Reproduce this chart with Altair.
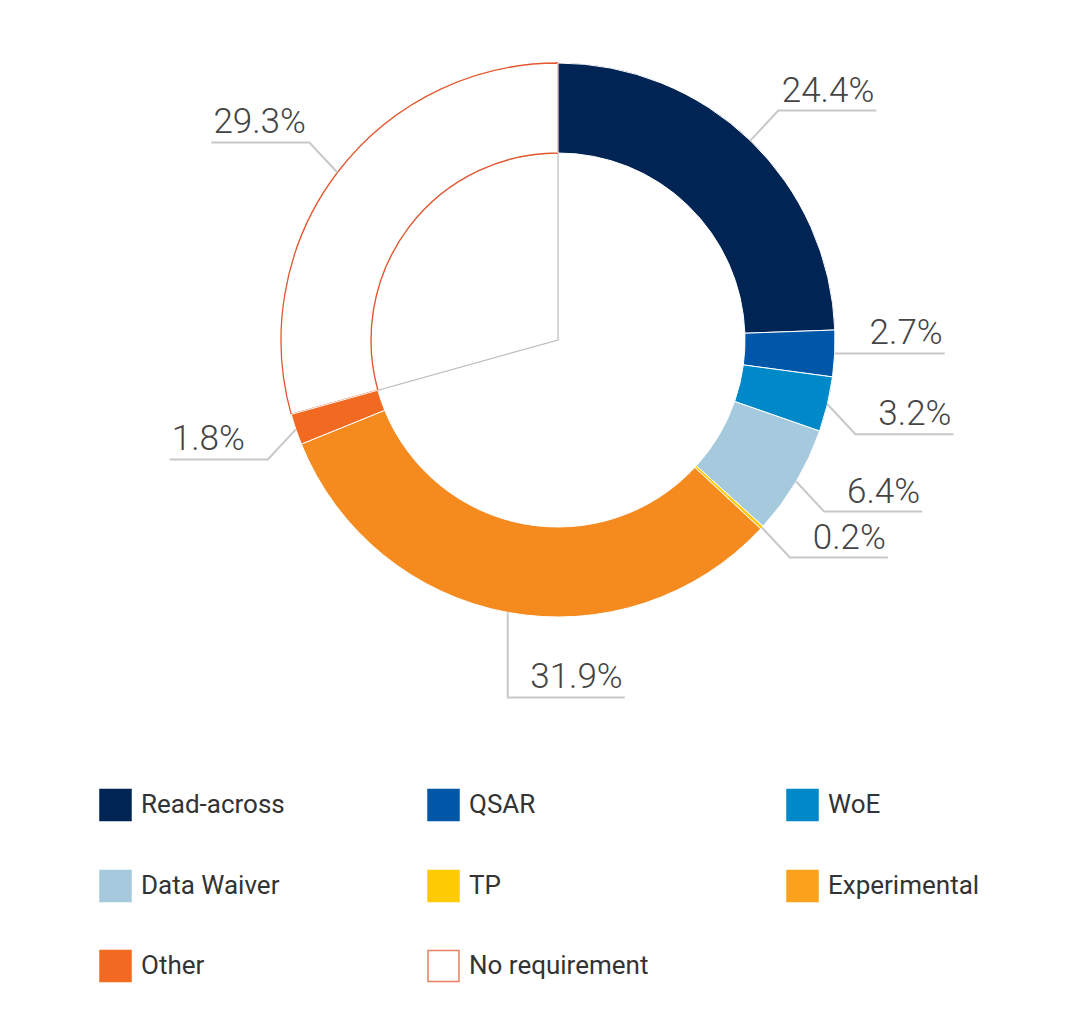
import math

import altair as alt
import pandas as pd

# Shares of each information source (percent), clockwise from 12 o'clock
categories = ["Read-across", "QSAR", "WoE", "Data Waiver", "TP",
              "Experimental", "Other", "No requirement"]
shares = [24.4, 2.7, 3.2, 6.4, 0.2, 31.9, 1.8, 29.3]
slice_colors = ["#002554", "#0057a8", "#0089c8", "#a5c9dd", "#ffcb05",
                "#f58a1f", "#f26a21", "#ffffff"]
legend_colors = ["#002554", "#0057a8", "#0089c8", "#a5c9dd", "#ffcb05",
                 "#faa21b", "#f26a21", "#ffffff"]

# Canvas and donut geometry (pixels)
W, H = 1070, 1036
CX, CY = 558, 340
R_OUT, R_IN = 277, 187
NOREQ_EDGE = "#e4572e"
LEADER_GRAY = "#c8c8c8"
LABEL_FONT = "Roboto"

total = sum(shares)
starts, ends, acc = [], [], 0.0
for v in shares:
    starts.append(acc)
    acc += v
    ends.append(acc)

slices = pd.DataFrame({
    "category": categories,
    "share": shares,
    "start": starts,
    "end": ends,
    "fill": slice_colors,
})

# Leader lines: from the slice's outer edge at its mid-angle, a short bend,
# then a horizontal run that carries the percentage label.
leader_rows, label_rows = [], []
for cat, v, s0, s1 in zip(categories, shares, starts, ends):
    ang = (s0 + s1) / 2 / total * 2 * math.pi
    sn, cs = math.sin(ang), math.cos(ang)
    ax, ay = CX + R_OUT * sn, CY - R_OUT * cs
    if abs(sn) < 0.3:            # bottom / top: drop straight, run right
        ex, ey = ax, ay + 85 * (1 if cs < 0 else -1)
        side = 1
        endx = ex + 117
    elif abs(cs) < 0.15:         # level with the centre: run straight out
        ex, ey = ax, ay
        side = 1 if sn > 0 else -1
        endx = ex + side * 110
    else:
        side = 1 if sn > 0 else -1
        ex, ey = ax + side * 28, ay + (30 if cs < 0 else -30)
        endx = ex + side * 98
    for step, (px, py) in enumerate([(ax, ay), (ex, ey), (endx, ey)]):
        leader_rows.append({"category": cat, "step": step, "px": px, "py": py})
    label_rows.append({"category": cat, "text": f"{v:.1f}%",
                       "px": endx, "py": ey,
                       "side": "right" if side > 0 else "left"})

leaders = pd.DataFrame(leader_rows)
labels = pd.DataFrame(label_rows)

# Legend grid: three columns, filled row by row
LEG_COL_X = [100, 428, 787]
LEG_ROW_Y = [805, 886, 966]
SWATCH = 31
legend = pd.DataFrame({
    "category": categories,
    "fill": legend_colors,
    "edge": [c if c != "#ffffff" else "#e8805f" for c in legend_colors],
    "sx": [LEG_COL_X[i % 3] + SWATCH / 2 for i in range(len(categories))],
    "tx": [LEG_COL_X[i % 3] + SWATCH + 10 for i in range(len(categories))],
    "ty": [LEG_ROW_Y[i // 3] for i in range(len(categories))],
})

xs = alt.Scale(domain=[0, W], range=[0, W])
ys = alt.Scale(domain=[0, H], range=[0, H])
theta_scale = alt.Scale(domain=[0, total], range=[0, 2 * math.pi])

base = alt.Chart(slices).encode(
    theta=alt.Theta("start:Q", scale=theta_scale),
    theta2="end:Q",
    x=alt.value(CX),
    y=alt.value(CY),
)

# White wedge behind the "No requirement" slice, edged in grey
wedge = base.transform_filter(
    alt.datum.category == "No requirement"
).mark_arc(innerRadius=0, outerRadius=R_IN, fill="white",
           stroke="#bdbdbd", strokeWidth=1.2)

ring_noreq = base.transform_filter(
    alt.datum.category == "No requirement"
).mark_arc(innerRadius=R_IN, outerRadius=R_OUT, fill="white",
           stroke=NOREQ_EDGE, strokeWidth=1.3)

ring = base.transform_filter(
    alt.datum.category != "No requirement"
).mark_arc(innerRadius=R_IN, outerRadius=R_OUT, stroke="white",
           strokeWidth=1).encode(fill=alt.Fill("fill:N", scale=None))

leader_lines = alt.Chart(leaders).mark_line(
    color=LEADER_GRAY, strokeWidth=2
).encode(
    x=alt.X("px:Q", scale=xs, axis=None),
    y=alt.Y("py:Q", scale=ys, axis=None),
    detail="category:N",
    order="step:Q",
)

label_base = alt.Chart(labels).encode(
    x=alt.X("px:Q", scale=xs, axis=None),
    y=alt.Y("py:Q", scale=ys, axis=None),
    text="text:N",
)
labels_right = label_base.transform_filter(
    alt.datum.side == "right"
).mark_text(align="right", baseline="alphabetic", dy=-9, dx=-2,
            font=LABEL_FONT, fontSize=35, fontWeight=300, color="#444444")
labels_left = label_base.transform_filter(
    alt.datum.side == "left"
).mark_text(align="left", baseline="alphabetic", dy=-9, dx=2,
            font=LABEL_FONT, fontSize=35, fontWeight=300, color="#444444")

legend_swatches = alt.Chart(legend).mark_square(
    size=SWATCH * SWATCH, opacity=1, strokeWidth=1.5
).encode(
    x=alt.X("sx:Q", scale=xs, axis=None),
    y=alt.Y("ty:Q", scale=ys, axis=None),
    fill=alt.Fill("fill:N", scale=None),
    stroke=alt.Stroke("edge:N", scale=None),
)

legend_text = alt.Chart(legend).mark_text(
    align="left", baseline="middle", font=LABEL_FONT, fontSize=26,
    color="#333333"
).encode(
    x=alt.X("tx:Q", scale=xs, axis=None),
    y=alt.Y("ty:Q", scale=ys, axis=None),
    text="category:N",
)

chart = alt.layer(
    wedge, ring_noreq, ring, leader_lines, labels_right, labels_left,
    legend_swatches, legend_text,
).properties(
    width=W, height=H, padding=0, background="white",
    autosize=alt.AutoSizeParams(type="none"),
).configure_view(stroke=None)

chart.save("out.html", embed_options={"renderer": "svg", "actions": False})
